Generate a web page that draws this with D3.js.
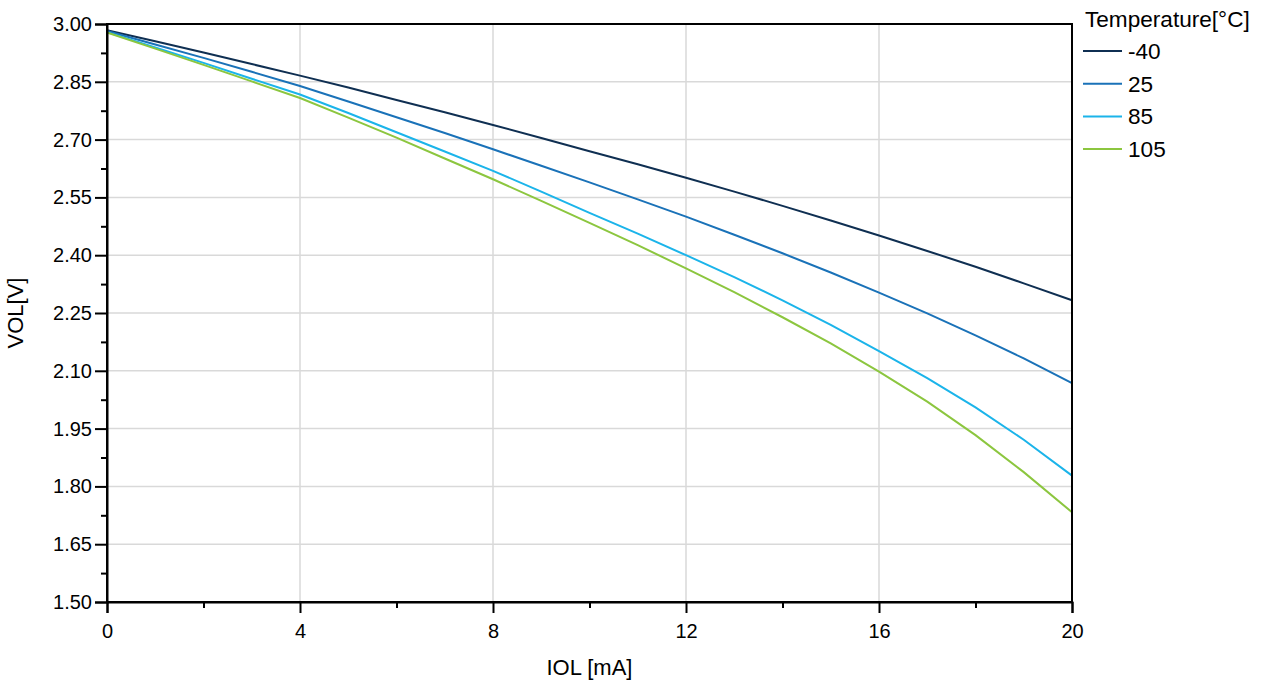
<!DOCTYPE html>
<html>
<head>
<meta charset="utf-8">
<script src="https://cdn.jsdelivr.net/npm/d3@7"></script>
<style>
  html, body { margin: 0; padding: 0; background: #fff; }
  svg { display: block; font-family: "Liberation Sans", Arial, sans-serif; }
</style>
</head>
<body>
<svg id="chart" width="1267" height="682"></svg>
<script>
// ---- data ----
const currents = [0,1,2,3,4,5,6,7,8,9,10,11,12,13,14,15,16,17,18,19,20];
const temperatures = ["-40", "25", "85", "105"];
const vol_m40 = [2.984,2.955,2.926,2.896,2.866,2.835,2.803,2.771,2.738,2.704,2.670,2.636,2.601,2.565,2.528,2.490,2.451,2.411,2.370,2.327,2.283];
const vol_25  = [2.982,2.947,2.912,2.876,2.839,2.799,2.758,2.717,2.675,2.632,2.589,2.545,2.500,2.453,2.405,2.355,2.303,2.249,2.192,2.132,2.068];
const vol_85  = [2.979,2.939,2.899,2.858,2.817,2.769,2.719,2.669,2.619,2.565,2.510,2.456,2.400,2.343,2.283,2.219,2.151,2.081,2.005,1.921,1.828];
const vol_105 = [2.978,2.936,2.894,2.851,2.808,2.757,2.705,2.651,2.597,2.541,2.484,2.426,2.366,2.304,2.239,2.171,2.098,2.020,1.933,1.837,1.733];
const seriesValues = [vol_m40, vol_25, vol_85, vol_105];
const colors = ["#0f2f52", "#1a72b8", "#1bb4ea", "#8cc63f"];
const xTicks = [0,4,8,12,16,20];
const xMinorTicks = [2,6,10,14,18];
const yTicks = [1.50,1.65,1.80,1.95,2.10,2.25,2.40,2.55,2.70,2.85,3.00];
const yMinorTicks = [1.575,1.725,1.875,2.025,2.175,2.325,2.475,2.625,2.775,2.925];

// ---- layout ----
const L = 107, R = 1072, T = 24, B = 602;
const svg = d3.select("#chart");
const x = d3.scaleLinear().domain([0, 20]).range([L, R]);
const y = d3.scaleLinear().domain([1.5, 3.0]).range([B, T]);

// gridlines
const grid = svg.append("g");
grid.selectAll("line.vx").data(xTicks.slice(1, -1)).join("line")
  .attr("x1", d => x(d)).attr("x2", d => x(d)).attr("y1", T).attr("y2", B)
  .attr("stroke", "#d9d9d9").attr("stroke-width", 1.5);
grid.selectAll("line.hy").data(yTicks.slice(1, -1)).join("line")
  .attr("x1", L).attr("x2", R).attr("y1", d => y(d)).attr("y2", d => y(d))
  .attr("stroke", "#d9d9d9").attr("stroke-width", 1.5);

// lines
const line = d3.line().x((d, i) => x(currents[i])).y(d => y(d));
svg.append("g").selectAll("path").data(seriesValues).join("path")
  .attr("d", d => line(d))
  .attr("fill", "none")
  .attr("stroke", (d, i) => colors[i])
  .attr("stroke-width", 2);

// frame
svg.append("rect").attr("x", L).attr("y", T).attr("width", R - L).attr("height", B - T)
  .attr("fill", "none").attr("stroke", "#000").attr("stroke-width", 2);

// x axis
const xAxis = d3.axisBottom(x).tickValues(xTicks).tickSize(11).tickPadding(11).tickFormat(d3.format("d"));
const gx = svg.append("g").attr("transform", `translate(0,${B})`).call(xAxis);
gx.select(".domain").attr("stroke", "#000").attr("stroke-width", 2);
gx.selectAll(".tick line").attr("stroke", "#000").attr("stroke-width", 2);
gx.selectAll(".tick text").attr("font-size", 20).attr("fill", "#000").attr("font-family", "Liberation Sans, Arial, sans-serif");
const gxm = svg.append("g").attr("transform", `translate(0,${B})`)
  .call(d3.axisBottom(x).tickValues(xMinorTicks).tickSize(6).tickFormat(""));
gxm.select(".domain").remove();
gxm.selectAll(".tick line").attr("stroke", "#000").attr("stroke-width", 2);

// y axis
const yAxis = d3.axisLeft(y).tickValues(yTicks).tickSize(12).tickPadding(3).tickFormat(d3.format(".2f"));
const gy = svg.append("g").attr("transform", `translate(${L},0)`).call(yAxis);
gy.select(".domain").attr("stroke", "#000").attr("stroke-width", 2);
gy.selectAll(".tick line").attr("stroke", "#000").attr("stroke-width", 2);
gy.selectAll(".tick text").attr("font-size", 20).attr("fill", "#000").attr("font-family", "Liberation Sans, Arial, sans-serif");
const gym = svg.append("g").attr("transform", `translate(${L},0)`)
  .call(d3.axisLeft(y).tickValues(yMinorTicks).tickSize(6).tickFormat(""));
gym.select(".domain").remove();
gym.selectAll(".tick line").attr("stroke", "#000").attr("stroke-width", 2);

// axis titles
svg.append("text").attr("x", (L + R) / 2).attr("y", 675).attr("text-anchor", "middle")
  .attr("font-size", 22).attr("fill", "#000").text("IOL [mA]");
svg.append("text").attr("transform", `translate(23,${(T + B) / 2}) rotate(-90)`).attr("text-anchor", "middle")
  .attr("font-size", 22).attr("fill", "#000").text("VOL[V]");

// legend
const lg = svg.append("g");
lg.append("text").attr("x", 1085).attr("y", 27).attr("font-size", 22.6).attr("fill", "#000").text("Temperature[°C]");
const items = lg.selectAll("g.item").data(temperatures).join("g")
  .attr("transform", (d, i) => `translate(0,${51 + i * 32.7})`);
items.append("line").attr("x1", 1083).attr("x2", 1122).attr("y1", 0).attr("y2", 0)
  .attr("stroke", (d, i) => colors[i]).attr("stroke-width", 2);
items.append("text").attr("x", 1128).attr("y", 8).attr("font-size", 22.6).attr("fill", "#000").text(d => d);
</script>
</body>
</html>
